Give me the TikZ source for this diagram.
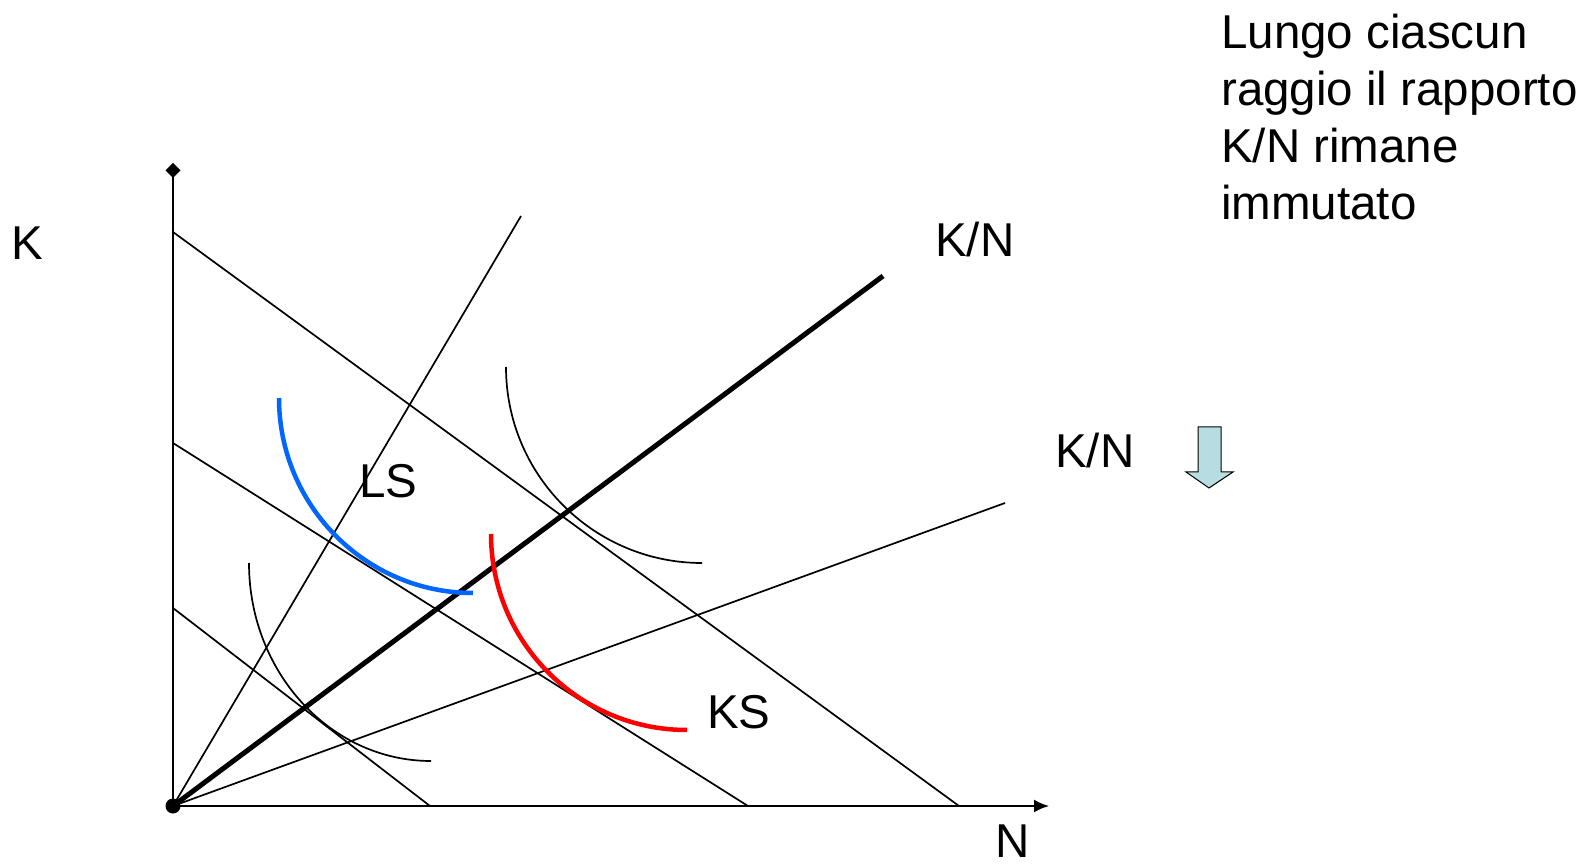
\documentclass[tikz,border=0pt]{standalone}
\usepackage{fontspec}
\setmainfont{Liberation Sans}
\usetikzlibrary{positioning,arrows.meta}
\definecolor{lsblue}{RGB}{0,102,255}
\definecolor{shiftfill}{RGB}{183,221,226}

\begin{document}
\begin{tikzpicture}[x=1pt,y=1pt,
  lbl/.style={font=\fontsize{47.5}{57}\selectfont,inner sep=0pt,anchor=base west},
  thin/.style={line width=1.7pt},
  axis/.style={line width=2pt},
  factor/.style={line width=4.5pt}]
\useasboundingbox (0,0) rectangle (1595,863);
% axes
\node[circle,fill,inner sep=0pt,minimum size=15pt] (O) at (173,57) {};
\coordinate (ytop) at (173,700);
\coordinate (xend) at (1049,57);
\draw[axis,-{Latex[length=15pt,width=13pt]}] (O.center) -- (xend);
\draw[axis,-{Diamond[length=15pt,width=15pt]}] (O.center) -- (ytop);
% rays
\coordinate (rmid) at (883,587);
\coordinate (rsteep) at (521,647);
\coordinate (rflat) at (1005,360);
\draw[line width=5pt] (O.center) -- (rmid);
\draw[thin] (O.center) -- (rsteep);
\draw[thin] (O.center) -- (rflat);
% isocost lines
\coordinate (b1k) at (173,631); \coordinate (b1n) at (959,57);
\coordinate (b2k) at (173,420); \coordinate (b2n) at (748,57);
\coordinate (b3k) at (173,255); \coordinate (b3n) at (430,57);
\draw[thin] (b1k) -- (b1n);
\draw[thin] (b2k) -- (b2n);
\draw[thin] (b3k) -- (b3n);
% isoquants
\draw[thin] (249,300) arc[start angle=180,end angle=270,x radius=182pt,y radius=198pt];
\draw[thin] (506,496) arc[start angle=180,end angle=270,radius=196pt];
\draw[factor,lsblue] (279,465) arc[start angle=180,end angle=270,x radius=194pt,y radius=195pt];
\draw[factor,red] (491,329) arc[start angle=180,end angle=270,radius=196pt];
% labels
\node[lbl] (K) at (11,603) {K};
\node[lbl] (N) at (995,6) {N};
\node[lbl] (KN1) at (935,606) {K/N};
\node[lbl] (KN2) at (1055,395) {K/N};
\node[lbl] (LS) at (359,365) {LS};
\node[lbl] (KS) at (707,135) {KS};
% shift arrow
\draw[line width=1pt,fill=shiftfill] (1198,436) -- (1221,436) -- (1221,391) -- (1233,391)
  -- (1209,375) -- (1186,391) -- (1198,391) -- cycle;
% note
\node[lbl] (t1) at (1221,814) {Lungo ciascun};
\node[lbl] (t2) at (1221,757) {raggio il rapporto};
\node[lbl] (t3) at (1221,700) {K/N rimane};
\node[lbl] (t4) at (1221,643) {immutato};
\end{tikzpicture}
\end{document}
